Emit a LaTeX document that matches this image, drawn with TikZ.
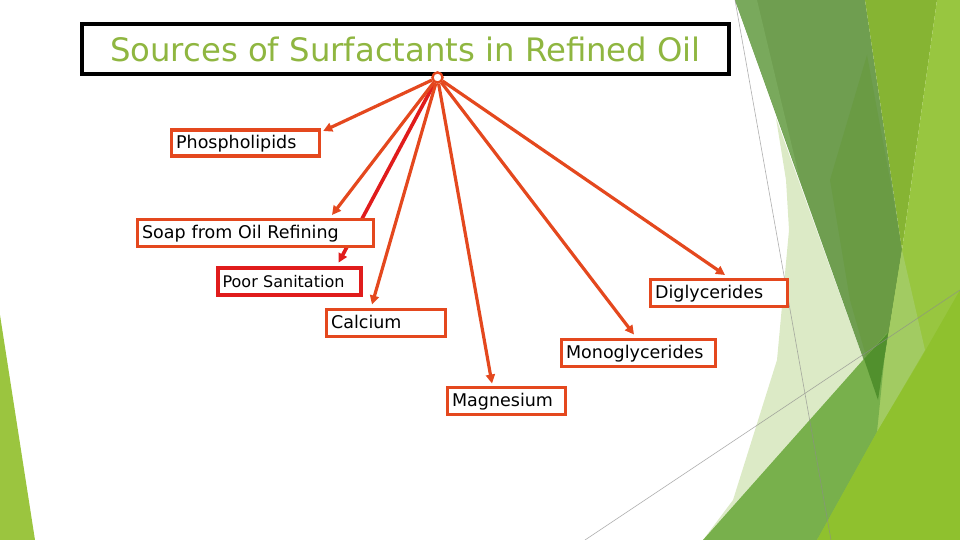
\documentclass[tikz,border=0pt]{standalone}
\usepackage{fontspec}
\setmainfont{DejaVu Sans}
\usetikzlibrary{arrows.meta,calc}
\definecolor{titlegreen}{RGB}{143,182,64}
\definecolor{arrowc}{RGB}{228,72,30}
\definecolor{redc}{RGB}{224,28,28}
\definecolor{paleg}{RGB}{220,234,198}
\definecolor{stripeg}{RGB}{121,169,92}
\definecolor{darkg}{RGB}{111,158,80}
\definecolor{darkerg}{RGB}{106,155,68}
\definecolor{oliveg}{RGB}{134,180,51}
\definecolor{rightg}{RGB}{152,198,64}
\definecolor{bandg}{RGB}{162,203,98}
\definecolor{medg}{RGB}{120,176,76}
\definecolor{apexg}{RGB}{81,144,45}
\definecolor{yellowg}{RGB}{143,193,46}
\definecolor{leftg}{RGB}{155,197,63}
\tikzset{
  box/.style={draw=arrowc, line width=3.2pt, fill=white, anchor=north west,
    inner xsep=5pt, inner ysep=0pt, align=left, text height=13pt, text depth=2pt,
    font=\fontsize{17.5}{20}\selectfont},
  redbox/.style={box, draw=redc, line width=4pt, font=\fontsize{16}{19}\selectfont},
  titlebox/.style={draw=black, line width=4pt, fill=white, inner sep=0pt,
    text=titlegreen, font=\fontsize{32.3}{38}\selectfont},
  conn/.style={draw=arrowc, line width=3.2pt, -{Triangle[length=9pt,width=9pt]}},
  redconn/.style={draw=redc, line width=3.6pt, -{Triangle[length=9pt,width=9pt]}},
  hubstyle/.style={circle, draw=arrowc, fill=white, line width=2.2pt, minimum size=10pt, inner sep=0pt},
  thinline/.style={draw=black!45, line width=0.6pt, opacity=0.7}
}
\begin{document}
\begin{tikzpicture}[x=1pt,y=-1pt]
\useasboundingbox (0,0) rectangle (960,540);
% background facets
\fill[paleg] (776,118) -- (878,400) -- (840,540) -- (703,540) -- (733,500) -- (777,360) -- (789,230) -- (786,180) -- cycle;
\fill[darkg] (735,0) -- (865,0) -- (902,250) -- (878,400) -- cycle;
\fill[stripeg] (735,0) -- (757,0) -- (800,180) -- cycle;
\fill[darkerg] (867,55) -- (830,180) -- (850,300) -- (878,398) -- (902,250) -- (890,180) -- cycle;
\fill[oliveg] (865,0) -- (937,0) -- (902,250) -- cycle;
\fill[rightg] (937,0) -- (960,0) -- (960,540) -- (817,540) -- (878,400) -- (902,250) -- cycle;
\fill[bandg] (902,250) -- (878,400) -- (874,437) -- (925,350) -- cycle;
\fill[medg] (703,540) -- (887,333) -- (877,432) -- (817,540) -- cycle;
\fill[apexg] (864,359) -- (888,333) -- (878,400) -- cycle;
\fill[yellowg] (817,540) -- (877,432) -- (920,360) -- (960,290) -- (960,540) -- cycle;
\fill[leftg] (0,315) -- (35,540) -- (0,540) -- cycle;
\coordinate (g1a) at (735,0);
\coordinate (g1b) at (831,540);
\coordinate (g2a) at (585,540);
\coordinate (g2b) at (960,290);
\draw[thinline] (g1a) -- (g1b);
\draw[thinline] (g2a) -- (g2b);
% title
\node[titlebox, minimum width=647pt, minimum height=50pt] (title) at (405.5,49) {Sources of Surfactants in Refined Oil};
\node[hubstyle] (hub) at (437.5,77.5) {};
% boxes
\node[redbox, text width=133.8pt, minimum height=27.8pt] (poor) at (215.6,265.6) {Poor Sanitation};
\coordinate (poortip) at ($(poor.north west)+(123,-3)$);
\draw[redconn] (hub) -- (poortip);
\node[box, text width=138pt, minimum height=26pt] (phos) at (169.5,128.5) {Phospholipids};
\node[box, text width=226pt, minimum height=27pt] (soap) at (135.5,217.5) {Soap from Oil Refining};
\node[box, text width=109pt, minimum height=27pt] (calc) at (324.5,307.5) {Calcium};
\node[box, text width=127pt, minimum height=27pt] (digl) at (648.5,277.5) {Diglycerides};
\node[box, text width=144pt, minimum height=27pt] (mono) at (559.5,337.5) {Monoglycerides};
\node[box, text width=108pt, minimum height=27pt] (magn) at (445.5,385.5) {Magnesium};
% connector tips
\coordinate (phostip) at ($(phos.north east)+(2.5,2.5)$);
\coordinate (soaptip) at ($(soap.north west)+(196.5,-2.5)$);
\coordinate (calctip) at ($(calc.north west)+(47.5,-3)$);
\coordinate (magntip) at ($(magn.north west)+(46.5,-2)$);
\coordinate (monotip) at ($(mono.north west)+(74.5,-3)$);
\coordinate (digltip) at ($(digl.north west)+(76.5,-2.5)$);
\draw[conn] (hub) -- (phostip);
\draw[conn] (hub) -- (soaptip);
\draw[conn] (hub) -- (calctip);
\draw[conn] (hub) -- (magntip);
\draw[conn] (hub) -- (monotip);
\draw[conn] (hub) -- (digltip);
\node[hubstyle] at (hub) {};
\end{tikzpicture}
\end{document}
